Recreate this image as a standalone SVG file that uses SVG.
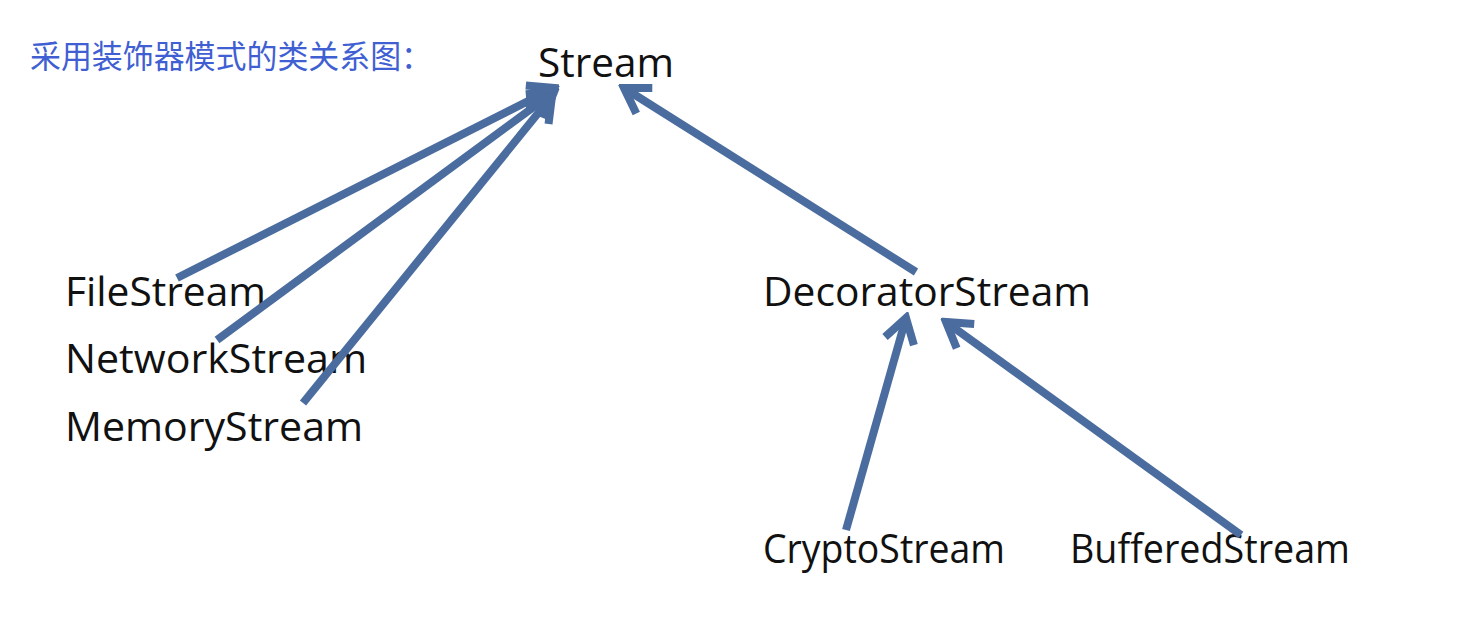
<svg xmlns="http://www.w3.org/2000/svg" width="1466" height="636" viewBox="0 0 1466 636">
<style>
.lbl{font-family:"Open Sans","Noto Sans","Liberation Sans",sans-serif;font-size:40px;fill:#111111}
.title{font-family:"Noto Sans CJK SC","Noto Sans",sans-serif;font-size:32px;fill:#3f5fd2}
.edge{stroke:#4b6c9e;stroke-width:8;fill:none;stroke-linecap:butt}
</style>
<defs>
<marker id="arr" markerUnits="userSpaceOnUse" viewBox="-34 -22 40 44" refX="0" refY="0" markerWidth="40" markerHeight="44" orient="auto">
<path d="M-24,-15 L0,0 L-24,15" fill="none" stroke="#4b6c9e" stroke-width="8" stroke-linejoin="miter"/>
</marker>
</defs>
<rect width="1466" height="636" fill="#ffffff"/>
<text class="title" x="30" y="68" textLength="402" lengthAdjust="spacingAndGlyphs">采用装饰器模式的类关系图：</text>
<g id="stream"><text class="lbl" x="538" y="77" textLength="136" lengthAdjust="spacingAndGlyphs">Stream</text></g>
<g id="filestream"><text class="lbl" x="65" y="306" textLength="201" lengthAdjust="spacingAndGlyphs">FileStream</text></g>
<g id="networkstream"><text class="lbl" x="65" y="373" textLength="302" lengthAdjust="spacingAndGlyphs">NetworkStream</text></g>
<g id="memorystream"><text class="lbl" x="65" y="441" textLength="298" lengthAdjust="spacingAndGlyphs">MemoryStream</text></g>
<g id="decoratorstream"><text class="lbl" x="763" y="306" textLength="328" lengthAdjust="spacingAndGlyphs">DecoratorStream</text></g>
<g id="cryptostream"><text class="lbl" x="763" y="563" textLength="242" lengthAdjust="spacingAndGlyphs">CryptoStream</text></g>
<g id="bufferedstream"><text class="lbl" x="1070" y="563" textLength="280" lengthAdjust="spacingAndGlyphs">BufferedStream</text></g>
<g id="connectors">
<line class="edge" x1="177" y1="278" x2="554" y2="88" marker-end="url(#arr)"/>
<line class="edge" x1="217" y1="340" x2="554" y2="92" marker-end="url(#arr)"/>
<line class="edge" x1="303" y1="403" x2="552" y2="96" marker-end="url(#arr)"/>
<line class="edge" x1="916" y1="272" x2="624" y2="88" marker-end="url(#arr)"/>
<line class="edge" x1="846" y1="530" x2="906" y2="318" marker-end="url(#arr)"/>
<line class="edge" x1="1241" y1="535" x2="946" y2="322" marker-end="url(#arr)"/>
</g>
</svg>
